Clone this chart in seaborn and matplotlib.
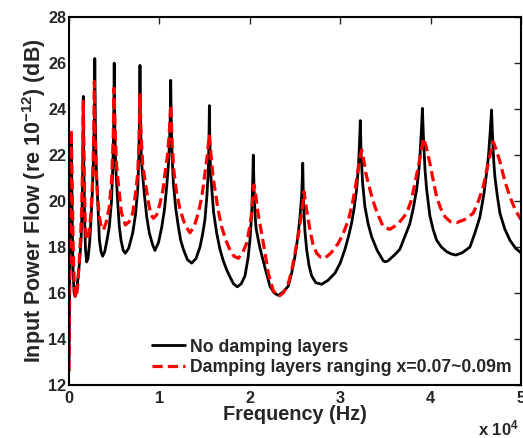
import matplotlib
matplotlib.use("Agg")
import matplotlib.pyplot as plt
import seaborn as sns
import pandas as pd

# frequency (Hz) and input power flow (dB)
freq_undamped = [0, 50, 120, 180, 240, 300, 370, 450, 560, 680, 820, 980, 1150, 1330, 1450,
                 1520, 1580, 1640, 1720, 1820, 1950, 2100, 2280, 2430, 2580, 2700, 2790, 2850,
                 2910, 3010, 3170, 3360, 3540, 3720, 3950, 4200, 4460, 4700, 4850, 4940, 5000,
                 5060, 5160, 5380, 5560, 5750, 6000, 6230, 6600, 7040, 7350, 7600, 7730, 7800,
                 7850, 7900, 8000, 8330, 8600, 8890, 9250, 9500, 9900, 10250, 10550, 10800,
                 11000, 11120, 11200, 11250, 11300, 11400, 11540, 11800, 12090, 12350, 12650,
                 13100, 13570, 14050, 14490, 14800, 15040, 15250, 15410, 15480, 15530, 15580,
                 15660, 15780, 16000, 16340, 16700, 17070, 17450, 17810, 18200, 18620, 19050,
                 19470, 19800, 20020, 20200, 20310, 20390, 20470, 20600, 20700, 21100, 21680,
                 22230, 22700, 23160, 23700, 24260, 24650, 25000, 25300, 25550, 25750, 25860,
                 25950, 26100, 26290, 26550, 26840, 27300, 27950, 28650, 29420, 30000, 30530,
                 30950, 31270, 31550, 31820, 32020, 32150, 32230, 32320, 32480, 32740, 33100,
                 33480, 34100, 34770, 35000, 35300, 36000, 36600, 37200, 37700, 38100, 38460,
                 38700, 38850, 38980, 39100, 39230, 39400, 39570, 39930, 40300, 40670, 41200,
                 41780, 42300, 42800, 43500, 44360, 44900, 45460, 45900, 46200, 46420, 46600,
                 46750, 46880, 47000, 47120, 47400, 47680, 48200, 48780, 49400, 50000]
power_undamped = [13.0, 15.5, 18.5, 20.8, 22.5, 21.0, 18.6, 16.9, 16.0, 15.85, 16.1, 16.6, 17.3, 18.3, 19.8,
                  21.6, 24.55, 21.5, 19.2, 17.9, 17.35, 17.5, 18.2, 19.2, 20.4, 21.8, 23.5, 26.2,
                  23.5, 21.5, 20.0, 18.3, 17.8, 17.6, 17.8, 18.3, 18.9, 20.0, 21.6, 23.3, 26.0,
                  23.3, 21.5, 20.0, 18.9, 18.3, 17.85, 17.73, 17.95, 18.6, 19.4, 20.5, 22.0, 23.6,
                  25.9, 23.6, 21.8, 20.3, 19.3, 18.6, 18.1, 17.85, 18.2, 18.85, 19.6, 20.6,
                  21.6, 22.6, 23.7, 25.25, 23.7, 22.0, 20.8, 19.7, 18.9, 18.3, 17.9,
                  17.45, 17.3, 17.5, 18.0, 18.6, 19.2, 20.2, 21.3, 22.6, 24.15, 22.6,
                  21.3, 20.6, 19.5, 18.6, 17.9, 17.4, 17.0, 16.7, 16.4, 16.27, 16.4,
                  16.75, 17.5, 18.3, 19.4, 20.6, 22.0, 20.5, 19.3, 18.8, 18.0, 17.1,
                  16.3, 16.0, 15.9, 16.05, 16.3, 16.9, 17.6, 18.4, 19.3, 20.3, 21.65,
                  19.8, 18.7, 17.9, 17.2, 16.75, 16.45, 16.38, 16.55, 16.86, 17.3, 17.9,
                  18.5, 19.05, 19.7, 20.5, 21.5, 22.6, 23.5, 22.0, 20.8, 19.75, 19.0,
                  18.45, 17.85, 17.4, 17.36, 17.4, 17.65, 17.9, 18.5, 19.0, 19.7, 20.5,
                  21.3, 22.1, 23.0, 24.03, 22.6, 21.3, 20.5, 19.35, 18.75, 18.3, 18.0,
                  17.8, 17.7, 17.65, 17.75, 18.0, 18.6, 19.3, 20.3, 21.2, 22.0, 23.0,
                  23.96, 22.6, 21.7, 21.06, 20.2, 19.47, 18.8, 18.3, 17.95, 17.75]

freq_damped = [0, 60, 130, 200, 240, 300, 380, 470, 580, 700, 800, 950, 1100, 1250, 1400,
               1480, 1540, 1580, 1630, 1700, 1800, 1900, 2050, 2250, 2450, 2620, 2720, 2800,
               2870, 2980, 3150, 3360, 3580, 3800, 4100, 4460, 4720, 4880, 4980, 5080, 5250,
               5490, 5800, 6230, 6650, 7040, 7350, 7600, 7750, 7850, 7960, 8150, 8520, 8800,
               9070, 9330, 9700, 10070, 10400, 10620, 10900, 11080, 11250, 11420, 11600, 11910,
               12250, 12650, 13000, 13380, 13850, 14300, 14700, 15040, 15300, 15520, 15750,
               15950, 16150, 16500, 16890, 17350, 17810, 18250, 18730, 19200, 19650, 19950,
               20210, 20350, 20460, 20580, 20900, 21310, 21700, 22050, 22600, 23160, 23700,
               24260, 24650, 25000, 25400, 25740, 26000, 26250, 26660, 27000, 27400, 27850,
               28300, 29000, 29790, 30350, 30900, 31300, 31640, 31950, 32200, 32380, 32600,
               32850, 33110, 33500, 33850, 34300, 34770, 35500, 36400, 37360, 37850, 38270,
               38700, 39000, 39200, 39500, 39930, 40300, 40670, 41100, 41590, 42200, 42880,
               43800, 44720, 45300, 45830, 46300, 46700, 46940, 47300, 47680, 48200, 48780,
               49400, 50000]
power_damped = [12.6, 16.0, 19.5, 22.0, 23.1, 22.0, 19.8, 17.8, 16.4, 15.8, 15.8, 16.3, 17.2, 18.2, 19.6,
                21.2, 22.8, 24.4, 22.5, 20.6, 19.0, 18.4, 18.3, 18.7, 19.6, 21.0, 22.7, 25.2,
                23.2, 21.5, 20.2, 19.3, 18.85, 18.74, 19.05, 19.75, 21.0, 22.6, 24.9, 23.3, 21.6,
                20.6, 19.5, 18.96, 19.1, 19.47, 20.3, 21.2, 22.6, 24.68, 23.0, 21.6, 20.6, 19.9,
                19.4, 19.25, 19.4, 19.9, 20.5, 21.2, 22.0, 22.9, 24.2, 22.4, 21.3, 20.33,
                19.7, 19.17, 18.85, 18.62, 18.9, 19.47, 20.2, 21.2, 22.0, 22.9, 21.8,
                21.0, 20.48, 19.6, 18.88, 18.3, 17.87, 17.6, 17.51, 17.75, 18.16, 18.8,
                19.47, 20.2, 20.7, 20.5, 19.5, 18.6, 17.7, 16.86, 16.1, 15.84, 16.0,
                16.42, 17.0, 17.73, 18.6, 19.47, 20.41, 19.7, 18.74, 18.1, 17.73, 17.55,
                17.51, 17.75, 18.16, 18.6, 19.17, 19.8, 20.48, 21.3, 21.9, 22.22, 21.8,
                21.2, 20.77, 20.2, 19.75, 19.3, 18.88, 18.77, 19.0, 19.47, 20.0, 20.77,
                21.6, 22.2, 22.73, 22.4, 21.64, 20.9, 20.19, 19.7, 19.32, 19.1, 19.06,
                19.2, 19.47, 20.0, 20.62, 21.5, 22.2, 22.58, 22.2, 21.71, 20.9, 20.19,
                19.6, 19.2]

y_ticks = [12, 14, 16, 18, 20, 22, 24, 26, 28]
x_ticks = [0, 10000, 20000, 30000, 40000, 50000]
x_tick_labels = ["0", "1", "2", "3", "4", "5"]

sns.set_style("white")
plt.rcParams["font.family"] = ["Liberation Sans", "DejaVu Sans"]
plt.rcParams["font.weight"] = "bold"
plt.rcParams["mathtext.fontset"] = "custom"
plt.rcParams["mathtext.rm"] = "Liberation Sans:bold"
plt.rcParams["mathtext.bf"] = "Liberation Sans:bold"
plt.rcParams["mathtext.default"] = "bf"

df_undamped = pd.DataFrame({"freq": freq_undamped, "power": power_undamped})
df_damped = pd.DataFrame({"freq": freq_damped, "power": power_damped})

fig = plt.figure(figsize=(5.23, 4.38), dpi=100)
ax = fig.add_axes([0.132, 0.121, 0.864, 0.840])

sns.lineplot(data=df_undamped, x="freq", y="power", ax=ax, color="black",
             linewidth=2.0, estimator=None, sort=False, label="No damping layers")
sns.lineplot(data=df_damped, x="freq", y="power", ax=ax, color="red",
             linewidth=2.3, linestyle="--", estimator=None, sort=False,
             label="Damping layers ranging x=0.07~0.09m")
ax.lines[-1].set_dashes((3.2, 1.6))

ax.set_xlim(0, 50000)
ax.set_ylim(12, 28)
ax.set_yticks(y_ticks)
ax.set_xticks(x_ticks)
ax.set_xticklabels(x_tick_labels)
ax.tick_params(direction="in", top=True, right=True, length=5, width=1,
               labelsize=11.7, pad=2)
ax.tick_params(axis="x", pad=4.5)
for lbl in ax.get_xticklabels() + ax.get_yticklabels():
    lbl.set_fontweight("bold")
for sp in ax.spines.values():
    sp.set_linewidth(1.5)
    sp.set_color("black")

ax.set_xlabel("Frequency (Hz)", fontsize=14.3, fontweight="bold", labelpad=-1)
ax.set_ylabel("Input Power Flow (re 10$^{-12}$) (dB)", fontsize=15.5, fontweight="bold", labelpad=0)
ax.text(0.995, -0.09, "x 10$^{4}$", transform=ax.transAxes, ha="right", va="top",
        fontsize=12, fontweight="bold")

leg = ax.legend(loc="lower right", frameon=False, fontsize=12.7, handlelength=1.9,
                handletextpad=0.3, labelspacing=0.2, borderaxespad=0.1)
for t in leg.get_texts():
    t.set_fontweight("bold")

fig.savefig("out.png", dpi=100)
